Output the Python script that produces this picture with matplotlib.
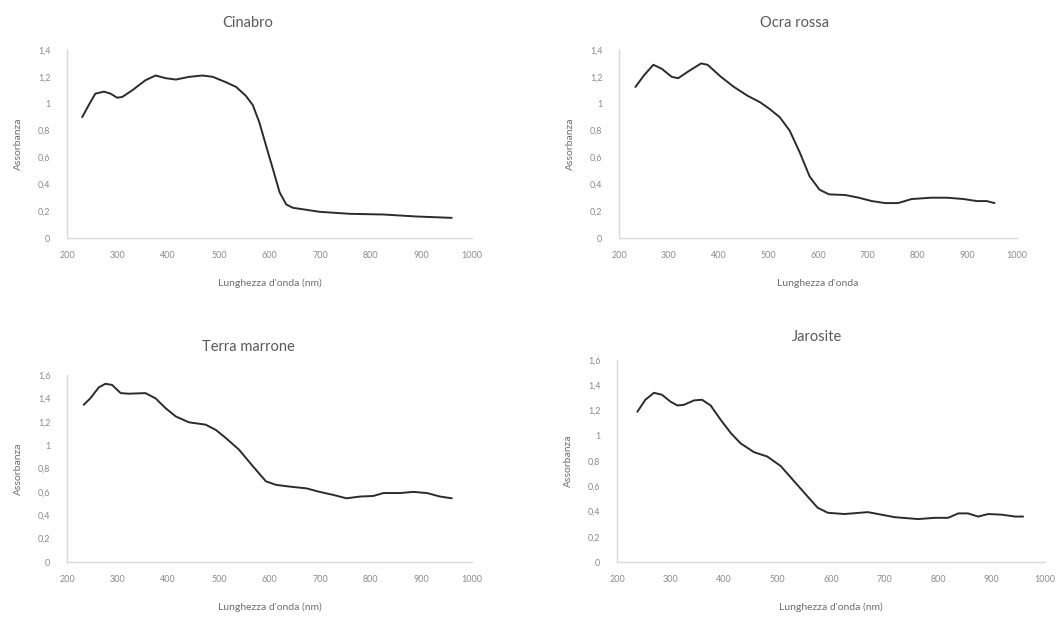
import matplotlib
matplotlib.use("Agg")
import matplotlib.pyplot as plt
from matplotlib.ticker import FuncFormatter, MultipleLocator

plt.rcParams['font.family'] = ['Lato', 'DejaVu Sans']

# Cinabro
cin_nm = [230, 243, 256, 273, 286, 299, 309, 329, 355, 375, 395, 415, 441, 468, 488,
          514, 534, 553, 567, 580, 593, 607, 620, 633, 646, 673, 699, 759, 825, 891, 960]
cin_abs = [0.90, 0.99, 1.075, 1.09, 1.075, 1.045, 1.05, 1.10, 1.175, 1.21, 1.19, 1.18, 1.20,
           1.21, 1.20, 1.16, 1.125, 1.06, 0.99, 0.86, 0.69, 0.51, 0.34, 0.25, 0.225, 0.21,
           0.195, 0.18, 0.175, 0.16, 0.15]

# Ocra rossa
ocr_nm = [233, 250, 269, 286, 306, 319, 339, 365, 378, 405, 431, 458, 484, 503, 523, 543,
          563, 583, 603, 622, 655, 682, 708, 735, 761, 788, 827, 860, 893, 919, 939, 955]
ocr_abs = [1.125, 1.21, 1.29, 1.26, 1.20, 1.19, 1.24, 1.30, 1.29, 1.20, 1.125, 1.06, 1.01,
           0.96, 0.90, 0.80, 0.64, 0.46, 0.36, 0.325, 0.32, 0.30, 0.275, 0.26, 0.26, 0.29,
           0.30, 0.30, 0.29, 0.275, 0.275, 0.26]

# Terra marrone
ter_nm = [233, 246, 263, 276, 289, 306, 322, 355, 375, 395, 415, 441, 474, 494, 514, 540,
          567, 593, 613, 640, 673, 699, 725, 752, 779, 805, 825, 858, 884, 911, 937, 960]
ter_abs = [1.345, 1.40, 1.495, 1.525, 1.515, 1.445, 1.44, 1.445, 1.40, 1.315, 1.245, 1.195,
           1.175, 1.13, 1.06, 0.96, 0.82, 0.69, 0.66, 0.645, 0.63, 0.60, 0.575, 0.545, 0.56,
           0.565, 0.59, 0.59, 0.60, 0.59, 0.56, 0.545]

# Jarosite
jar_nm = [238, 253, 269, 284, 300, 313, 325, 344, 359, 375, 394, 413, 431, 456, 481, 506,
          531, 556, 575, 594, 625, 669, 694, 719, 763, 794, 819, 838, 856, 875, 894, 919,
          944, 959]
jar_abs = [1.19, 1.285, 1.34, 1.325, 1.27, 1.24, 1.245, 1.28, 1.285, 1.24, 1.125, 1.02, 0.94,
           0.87, 0.835, 0.76, 0.64, 0.52, 0.43, 0.39, 0.38, 0.395, 0.375, 0.355, 0.34, 0.35,
           0.35, 0.385, 0.385, 0.36, 0.38, 0.375, 0.36, 0.36]

W, H = 1062, 619
fig = plt.figure(figsize=(W / 100, H / 100), dpi=100)

text_col = '#6e6e6e'
tick_col = '#8a8a8a'
spine_col = '#d9d9d9'


def comma(v, pos):
    return f"{v:g}".replace('.', ',')


# (left, right, top, bottom) in pixels, ymax, title, title x/y, xlabel
panels = [
    (67, 472, 50, 238, 1.4, 'Cinabro', 248, 23, "Lunghezza d'onda (nm)", cin_nm, cin_abs),
    (619, 1017, 50, 238, 1.4, 'Ocra rossa', 795, 23, "Lunghezza d'onda", ocr_nm, ocr_abs),
    (67, 472, 375, 562, 1.6, 'Terra marrone', 248, 347, "Lunghezza d'onda (nm)", ter_nm, ter_abs),
    (617, 1045, 360, 562, 1.6, 'Jarosite', 817, 337, "Lunghezza d'onda (nm)", jar_nm, jar_abs),
]

for l, r, t, b, ymax, title, tx, ty, xlab, xs, ys in panels:
    ax = fig.add_axes([l / W, 1 - b / H, (r - l) / W, (b - t) / H])
    ax.plot(xs, ys, color='#2b2b2b', lw=1.4, solid_joinstyle='round',
            solid_capstyle='round')
    ax.set_xlim(200, 1000)
    ax.set_ylim(0, ymax)
    ax.xaxis.set_major_locator(MultipleLocator(100))
    ax.yaxis.set_major_locator(MultipleLocator(0.2))
    ax.yaxis.set_major_formatter(FuncFormatter(comma))
    for s in ['top', 'right']:
        ax.spines[s].set_visible(False)
    for s in ['left', 'bottom']:
        ax.spines[s].set_color(spine_col)
        ax.spines[s].set_linewidth(1.0)
    ax.tick_params(axis='both', length=0, labelsize=6.5, labelcolor=tick_col)
    ax.tick_params(axis='x', pad=9)
    ax.tick_params(axis='y', pad=12)
    ax.set_xlabel(xlab, fontsize=7.5, color=text_col, labelpad=14)
    ax.set_ylabel('Assorbanza', fontsize=7.5, color=text_col, labelpad=11)
    fig.text(tx / W, 1 - ty / H, title, fontsize=10.5, color='#595959',
             ha='center', va='center')

fig.savefig('out.png', dpi=100)
